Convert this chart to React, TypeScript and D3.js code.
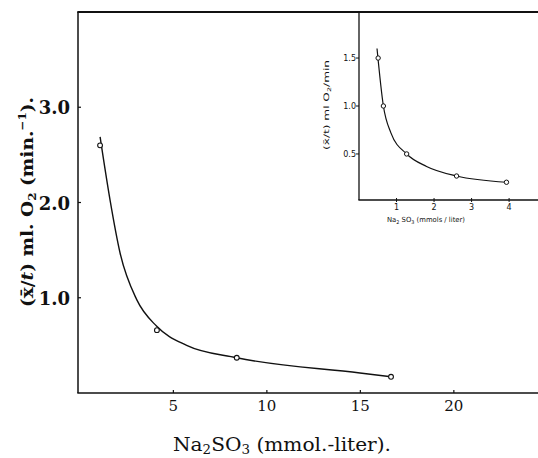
import React from "react";
import * as d3 from "d3";

// Main chart data: Na2SO3 (mmol/liter) vs (x/t) ml O2 per min
const mainX = [1.08, 4.12, 8.39, 16.64];
const mainY = [2.6, 0.66, 0.37, 0.17];
// Smooth fitted curve drawn by hand in the original
const mainCurveX = [1.08, 1.61, 2.15, 3.04, 4.11, 5.71, 8.39, 14.98, 16.64];
const mainCurveY = [2.69, 2.03, 1.47, 0.98, 0.7, 0.5, 0.37, 0.21, 0.17];
const mainXTicks = [5, 10, 15, 20];
const mainYTicks = [1.0, 2.0, 3.0];

// Inset data
const insetX = [0.51, 0.65, 1.27, 2.6, 3.93];
const insetY = [1.5, 1.0, 0.5, 0.27, 0.205];
const insetCurveX = [0.48, 0.65, 0.85, 1.27, 1.8, 2.6, 3.93];
const insetCurveY = [1.6, 1.0, 0.72, 0.5, 0.37, 0.27, 0.205];
const insetXTicks = [1, 2, 3, 4];
const insetYTicks = [0.5, 1.0, 1.5];

const W = 538;
const H = 458;

export default function App() {
  const x = d3.scaleLinear().domain([-0.1, 24.5]).range([78, 538]);
  const y = d3.scaleLinear().domain([0, 4]).range([393, 12]);
  const ix = d3.scaleLinear().domain([0, 4.77]).range([359, 538]);
  const iy = d3.scaleLinear().domain([0.02, 1.98]).range([200, 12]);

  const mainLine = d3
    .line<number>()
    .x((_, i) => x(mainCurveX[i]))
    .y((d) => y(d))
    .curve(d3.curveMonotoneX);
  const insetLine = d3
    .line<number>()
    .x((_, i) => ix(insetCurveX[i]))
    .y((d) => iy(d))
    .curve(d3.curveMonotoneX);

  const serif = "'DejaVu Serif', 'Liberation Serif', serif";
  const sans = "'DejaVu Sans', 'Liberation Sans', sans-serif";

  return (
    <svg
      width={W}
      height={H}
      style={{ position: "absolute", left: 0, top: 0, background: "#fff" }}
    >
      <rect x={0} y={0} width={W} height={H} fill="#fff" />
      {/* main frame: left, top, bottom */}
      <line x1={x(-0.1)} y1={y(4)} x2={x(-0.1)} y2={y(0)} stroke="#111" strokeWidth={1.5} />
      <line x1={x(-0.1) - 0.7} y1={y(4)} x2={W} y2={y(4)} stroke="#111" strokeWidth={1.8} />
      <line x1={x(-0.1) - 0.7} y1={y(0)} x2={W} y2={y(0)} stroke="#111" strokeWidth={1.6} />

      {/* main y ticks and labels */}
      {mainYTicks.map((t) => (
        <g key={"my" + t}>
          <line x1={x(-0.1)} x2={x(-0.1) + 3} y1={y(t)} y2={y(t)} stroke="#111" strokeWidth={1.2} />
          <text
            x={70}
            y={y(t) + 7}
            textAnchor="end"
            fontFamily={serif}
            fontWeight="bold"
            fontSize={18}
            fill="#111"
          >
            {t.toFixed(1)}
          </text>
        </g>
      ))}

      {/* main x ticks and labels */}
      {mainXTicks.map((t) => (
        <g key={"mx" + t}>
          <line x1={x(t)} x2={x(t)} y1={y(0)} y2={y(0) - 3} stroke="#111" strokeWidth={1.2} />
          <text
            x={x(t)}
            y={411}
            textAnchor="middle"
            fontFamily={serif}
            fontSize={15}
            fill="#111"
          >
            {t}
          </text>
        </g>
      ))}

      {/* main axis titles */}
      <text
        x={173}
        y={451}
        fontFamily={serif}
        fontSize={18}
        fill="#111"
        textLength={218}
        lengthAdjust="spacingAndGlyphs"
      >
        Na<tspan fontSize={12} dy={3}>2</tspan>
        <tspan dy={-3}>SO</tspan>
        <tspan fontSize={12} dy={3}>3</tspan>
        <tspan dy={-3}> (mmol.-liter).</tspan>
      </text>
      <text
        transform={`translate(33, 307) rotate(-90)`}
        fontFamily={serif}
        fontWeight="bold"
        fontSize={17}
        fill="#111"
        textLength={210}
        lengthAdjust="spacingAndGlyphs"
      >
        (x̄/<tspan fontStyle="italic">t</tspan>) ml. O<tspan fontSize={11} dy={3}>2</tspan>
        <tspan dy={-3}> (min.</tspan>
        <tspan fontSize={11} dy={-7}>−1</tspan>
        <tspan dy={7}>).</tspan>
      </text>

      {/* main curve and points */}
      <path d={mainLine(mainCurveY) || ""} fill="none" stroke="#111" strokeWidth={1.4} />
      {mainX.map((v, i) => (
        <circle key={"mp" + i} cx={x(v)} cy={y(mainY[i])} r={2.4} fill="#fff" stroke="#111" strokeWidth={1.1} />
      ))}

      {/* inset axes */}
      <line x1={ix(0)} y1={iy(1.98)} x2={ix(0)} y2={iy(0.02)} stroke="#111" strokeWidth={1.3} />
      <line x1={ix(0) - 0.6} y1={iy(0.02)} x2={W} y2={iy(0.02)} stroke="#111" strokeWidth={1.3} />
      {insetYTicks.map((t) => (
        <g key={"iy" + t}>
          <line x1={ix(0) - 3} x2={ix(0)} y1={iy(t)} y2={iy(t)} stroke="#111" strokeWidth={1} />
          <text
            x={ix(0) - 3}
            y={iy(t) + 3}
            textAnchor="end"
            fontFamily={sans}
            fontSize={8}
            fill="#111"
          >
            {t.toFixed(1)}
          </text>
        </g>
      ))}
      {insetXTicks.map((t) => (
        <g key={"ix" + t}>
          <line x1={ix(t)} x2={ix(t)} y1={iy(0.02) - 2} y2={iy(0.02) + 2} stroke="#111" strokeWidth={1} />
          <text
            x={ix(t)}
            y={iy(0.02) + 10}
            textAnchor="middle"
            fontFamily={sans}
            fontSize={8}
            fill="#111"
          >
            {t}
          </text>
        </g>
      ))}
      <text
        x={387}
        y={222}
        fontFamily={sans}
        fontSize={7}
        fill="#111"
        textLength={78}
        lengthAdjust="spacingAndGlyphs"
      >
        Na<tspan fontSize={5} dy={1.5}>2</tspan>
        <tspan dy={-1.5}> SO</tspan>
        <tspan fontSize={5} dy={1.5}>3</tspan>
        <tspan dy={-1.5}> (mmols / liter)</tspan>
      </text>
      <text
        transform={`translate(329, 150) rotate(-90)`}
        fontFamily={sans}
        fontSize={7.5}
        fill="#111"
        textLength={90}
        lengthAdjust="spacingAndGlyphs"
      >
        (x̄/t) ml O<tspan fontSize={5} dy={1.5}>2</tspan>
        <tspan dy={-1.5}>/min</tspan>
      </text>

      <path d={insetLine(insetCurveY) || ""} fill="none" stroke="#111" strokeWidth={1.2} />
      {insetX.map((v, i) => (
        <circle key={"ip" + i} cx={ix(v)} cy={iy(insetY[i])} r={2.2} fill="#fff" stroke="#111" strokeWidth={1} />
      ))}
    </svg>
  );
}
